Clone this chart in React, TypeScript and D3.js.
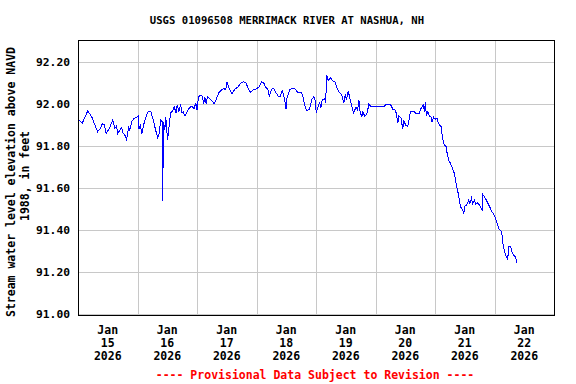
import React from "react";
import * as d3 from "d3";

const TITLE = "USGS 01096508 MERRIMACK RIVER AT NASHUA, NH";
const Y_LABEL_1 = "Stream water level elevation above NAVD";
const Y_LABEL_2 = "1988, in feet";
const FOOTER = "---- Provisional Data Subject to Revision ----";

const yTicks = [91.0, 91.2, 91.4, 91.6, 91.8, 92.0, 92.2];
const dayLabels = ["15", "16", "17", "18", "19", "20", "21", "22"];
const monthLabel = "Jan";
const yearLabel = "2026";

// hours since 2026-01-15 00:00
const hours = [
  0, 0.4, 1.7, 3.9, 5.5, 6.8, 7.9, 8.9, 9.8, 10.6, 11.3, 12.2, 12.9, 14.0, 14.9, 15.6, 16.0, 16.9, 17.6, 18.2,
  18.9, 19.6, 20.4, 20.9, 21.7, 22.7, 23.6, 24.3, 24.6, 25.2, 25.7, 26.3, 27.0, 27.9, 28.7, 29.4, 30.3, 31.3,
  32.1, 32.7, 33.4, 33.9, 34.0, 34.3, 34.5, 35.0, 35.4, 36.1, 36.6, 37.3, 38.4, 38.8, 39.5, 40.0, 40.7, 41.4,
  41.8, 42.4, 43.1, 44.0, 45.1, 46.0, 46.8, 47.5, 48.0, 48.6, 49.5, 50.2, 50.7, 51.1, 51.7, 52.2, 53.2, 54.2,
  54.9, 55.9, 56.8, 57.9, 58.8, 59.6, 60.0, 60.8, 62.1, 63.2, 64.6, 65.6, 66.6, 67.7, 68.6, 69.5, 70.6, 72.2,
  73.0, 74.0, 74.9, 75.7, 76.6, 77.2, 78.0, 78.9, 79.6, 80.7, 81.6, 82.4, 83.0, 83.5, 83.9, 84.3, 85.4, 86.5,
  87.8, 88.5, 90.1, 90.7, 91.4, 92.3, 93.4, 94.3, 95.2, 95.7, 96.1, 96.8, 97.5, 97.9, 98.5, 99.5, 99.9, 100.3,
  101.0, 101.8, 102.6, 103.6, 104.4, 105.5, 106.4, 107.2, 107.8, 108.3, 109.0, 109.5, 110.2, 111.1, 112.2,
  112.8, 113.3, 113.8, 114.5, 114.9, 115.7, 116.7, 117.3, 118.0, 123.6, 124.3, 126.0, 127.0, 128.1, 128.6,
  129.0, 129.4, 130.3, 131.0, 131.4, 132.1, 133.0, 134.1, 135.7, 136.1, 137.7, 138.4, 139.3, 139.8, 140.1,
  140.5, 141.1, 141.7, 142.4, 142.8, 143.5, 144.0, 144.8, 145.5, 146.5, 147.1, 147.8, 148.5, 148.9, 149.5,
  150.1, 150.9, 151.8, 152.5, 153.0, 153.5, 153.8, 154.3, 155.2, 155.6, 156.1, 156.8, 157.6, 158.1, 158.7,
  159.2, 159.9, 160.5, 161.2, 161.9, 162.6, 163.0, 163.2, 163.9, 164.8, 165.9, 167.0, 167.9, 168.6, 169.3,
  169.9, 170.9, 171.3, 171.9, 172.6, 173.3, 173.8, 174.5, 175.0, 175.7, 176.4, 177.1,
];

const levels = [
  91.92, 91.924, 91.908, 91.967, 91.94, 91.9, 91.868, 91.88, 91.905, 91.903, 91.86, 91.876, 91.89, 91.924,
  91.884, 91.895, 91.86, 91.876, 91.887, 91.86, 91.852, 91.83, 91.889, 91.876, 91.916, 91.932, 91.937, 91.943,
  91.882, 91.9, 91.857, 91.892, 91.924, 91.956, 91.967, 91.962, 91.927, 91.876, 91.841, 91.857, 91.924, 91.916,
  91.54, 91.7, 91.916, 91.876, 91.94, 91.83, 91.876, 91.956, 91.971, 91.99, 91.956, 91.995, 91.963, 91.999,
  91.959, 91.963, 91.943, 91.963, 91.984, 91.99, 91.975, 92.006, 91.971, 92.035, 92.043, 92.035, 92.0, 92.035,
  92.0, 92.035, 92.024, 92.014, 92.0, 92.027, 92.054, 92.067, 92.075, 92.067, 92.106, 92.079, 92.048, 92.07,
  92.082, 92.098, 92.106, 92.103, 92.075, 92.056, 92.067, 92.073, 92.082, 92.106, 92.101, 92.079, 92.07,
  92.035, 92.07, 92.075, 92.059, 92.038, 92.038, 92.063, 92.038, 92.011, 91.975, 92.027, 92.067, 92.075,
  92.07, 92.056, 92.056, 92.035, 91.995, 91.968, 91.975, 92.022, 92.035, 92.016, 91.959, 91.984, 92.011, 91.98,
  92.019, 92.027, 92.006, 92.138, 92.111, 92.127, 92.11, 92.106, 92.079, 92.054, 92.043, 92.003, 92.046,
  92.019, 92.062, 92.035, 92.0, 91.959, 91.984, 91.971, 92.019, 91.963, 91.937, 91.963, 91.94, 91.959, 92.0,
  91.99, 91.99, 92.0, 91.999, 91.975, 91.971, 91.937, 91.908, 91.943, 91.932, 91.88, 91.924, 91.9, 91.892,
  91.963, 91.963, 91.956, 91.956, 91.98, 91.995, 91.963, 92.008, 91.948, 91.963, 91.943, 91.937, 91.916,
  91.937, 91.927, 91.932, 91.905, 91.892, 91.832, 91.805, 91.797, 91.765, 91.733, 91.72, 91.698, 91.67,
  91.622, 91.594, 91.567, 91.543, 91.511, 91.495, 91.479, 91.514, 91.519, 91.543, 91.527, 91.551, 91.527,
  91.543, 91.522, 91.53, 91.519, 91.503, 91.498, 91.57, 91.559, 91.54, 91.514, 91.487, 91.471, 91.448, 91.424,
  91.403, 91.392, 91.344, 91.305, 91.276, 91.26, 91.32, 91.32, 91.297, 91.281, 91.273, 91.241,
];

const FONT = "'DejaVu Sans Mono', monospace";

export default function App() {
  const W = 576;
  const H = 384;
  const left = 78;
  const right = 554;
  const top = 40;
  const bottom = 315;

  const x = d3.scaleLinear().domain([0, 192]).range([left, right]);
  const y = d3.scaleLinear().domain([91.0, 92.3]).range([314, 41]);

  const data = hours.map((h, i) => [h, levels[i]] as [number, number]);
  const line = d3
    .line<[number, number]>()
    .x((d) => x(d[0]))
    .y((d) => y(d[1]));

  const dayGrid = d3.range(1, 8).map((d) => d * 24);

  return (
    <svg
      width={W}
      height={H}
      style={{ position: "absolute", left: 0, top: 0, background: "#fff" }}
      fontFamily={FONT}
      fontWeight="bold"
    >
      <rect x={0} y={0} width={W} height={H} fill="#fff" />
      <text x={287} y={24} textAnchor="middle" fontSize={10.6} fill="#000">
        {TITLE}
      </text>

      {yTicks.map((t) => (
        <line
          key={"gy" + t}
          x1={left}
          x2={right}
          y1={Math.round(y(t)) + 0.5}
          y2={Math.round(y(t)) + 0.5}
          stroke="#c8c8c8"
          strokeWidth={1}
        />
      ))}
      {dayGrid.map((h) => (
        <line
          key={"gx" + h}
          x1={Math.round(x(h)) + 0.5}
          x2={Math.round(x(h)) + 0.5}
          y1={top}
          y2={bottom}
          stroke="#c8c8c8"
          strokeWidth={1}
        />
      ))}

      <path
        d={line(data) ?? ""}
        fill="none"
        stroke="#0000ff"
        strokeWidth={1}
        shapeRendering="crispEdges"
      />

      <rect
        x={left + 0.5}
        y={top + 0.5}
        width={right - left}
        height={bottom - top}
        fill="none"
        stroke="#000"
        strokeWidth={1}
      />

      {yTicks.map((t) => (
        <text
          key={"ty" + t}
          x={70}
          y={y(t)}
          dy="0.35em"
          textAnchor="end"
          fontSize={11.3}
          fill="#000"
        >
          {t.toFixed(2)}
        </text>
      ))}

      <text
        transform={`translate(15,182) rotate(-90)`}
        textAnchor="middle"
        fontSize={11.5}
        fill="#000"
      >
        {Y_LABEL_1}
      </text>
      <text
        transform={`translate(29,176) rotate(-90)`}
        textAnchor="middle"
        fontSize={11.5}
        fill="#000"
      >
        {Y_LABEL_2}
      </text>

      {dayLabels.map((d, i) => {
        const cx = x(i * 24 + 12);
        return (
          <g key={"tx" + d}>
            <text x={cx} y={334} textAnchor="middle" fontSize={11.5} fill="#000">
              {monthLabel}
            </text>
            <text x={cx} y={347} textAnchor="middle" fontSize={11.5} fill="#000">
              {d}
            </text>
            <text x={cx} y={360} textAnchor="middle" fontSize={11.5} fill="#000">
              {yearLabel}
            </text>
          </g>
        );
      })}

      <text x={315} y={379} textAnchor="middle" fontSize={11.5} fill="#ff0000">
        {FOOTER}
      </text>
    </svg>
  );
}
